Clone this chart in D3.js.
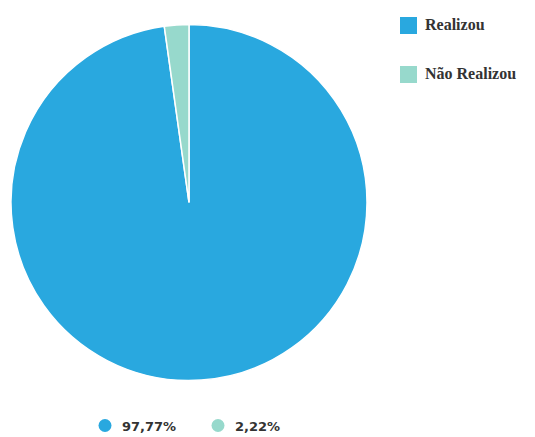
<!DOCTYPE html>
<html>
<head>
<meta charset="utf-8">
<script src="https://cdn.jsdelivr.net/npm/d3@7"></script>
<style>
  body { margin: 0; background: #fff; }
</style>
</head>
<body>
<div class="canvas"></div>
<script>
// Data
const categories = ['Realizou', 'Não Realizou'];
const values = [97.77, 2.22];
const labels = ['97,77%', '2,22%'];
const colors = ['#29a8df', '#97d9cc'];

const width = 535, height = 437;
const cx = 189, cy = 202.5, radius = 178;

const svg = d3.select('.canvas')
    .append('svg')
    .attr('width', width)
    .attr('height', height);

const data = categories.map((c, i) => ({ name: c, value: values[i], label: labels[i], color: colors[i] }));

// pie goes clockwise from 12 o'clock, small slice ends at the top
const pie = d3.pie()
    .sort(null)
    .value(d => d.value);

const arc = d3.arc()
    .innerRadius(0)
    .outerRadius(radius);

const g = svg.append('g')
    .attr('transform', `translate(${cx},${cy})`);

g.selectAll('path')
    .data(pie(data))
    .enter()
    .append('path')
    .attr('d', arc)
    .attr('fill', d => d.data.color)
    .attr('stroke', '#fff')
    .attr('stroke-width', 1.5);

// Legend at right
const legend = svg.append('g')
    .attr('transform', 'translate(400,17)');

const item = legend.selectAll('g')
    .data(data)
    .enter()
    .append('g')
    .attr('transform', (d, i) => `translate(0,${i * 49})`);

item.append('rect')
    .attr('width', 17)
    .attr('height', 17)
    .attr('fill', d => d.color);

item.append('text')
    .attr('x', 25)
    .attr('y', 13)
    .style('font', 'bold 16px "Liberation Serif", serif')
    .attr('fill', '#333')
    .text(d => d.name);

// Value labels at bottom
const bottom = svg.append('g')
    .attr('transform', 'translate(105,425.5)');

const lab = bottom.selectAll('g')
    .data(data)
    .enter()
    .append('g')
    .attr('transform', (d, i) => `translate(${i * 113},0)`);

lab.append('circle')
    .attr('r', 6.5)
    .attr('fill', d => d.color);

lab.append('text')
    .attr('x', 17)
    .attr('y', 5)
    .style('font', 'bold 13px "DejaVu Sans", sans-serif')
    .attr('fill', '#333')
    .text(d => d.label);
</script>
</body>
</html>
